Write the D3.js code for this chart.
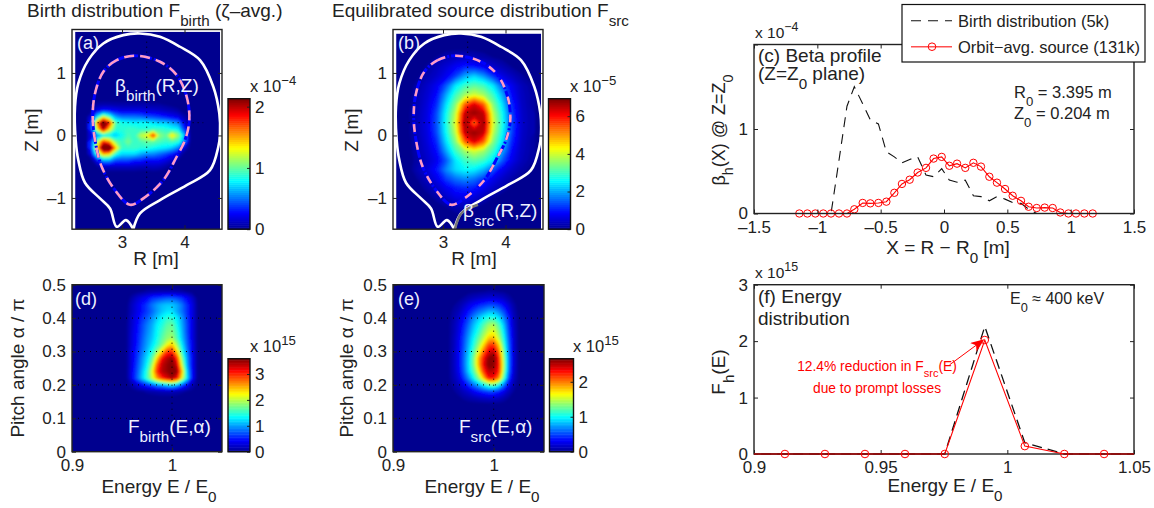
<!DOCTYPE html>
<html>
<head>
<meta charset="utf-8">
<script src="https://cdn.jsdelivr.net/npm/d3@7"></script>
<style>
  html, body { margin: 0; background: #fff; }
  svg { display: block; font-family: "Liberation Sans", Arial, sans-serif; fill: #222; }
  .domain { display: none; }
  .tick line { stroke: #222; stroke-width: 1; }
  .tick text { font-size: 17px; fill: #222; }
</style>
</head>
<body>
<svg id="chart" width="1154" height="508"></svg>
<script>
// values
const birthR = [2.5, 2.6, 2.7, 2.8, 2.9, 3.0, 3.1, 3.2, 3.3, 3.4, 3.5, 3.6, 3.7, 3.8, 3.9, 4.0, 4.1];
const birthZ = [0.6, 0.5, 0.4, 0.3, 0.2, 0.1, 0, -0.1, -0.2, -0.3, -0.4, -0.5, -0.6];
const birthRZ = [
  [0, 0, 0, 0, 0, 0, 0, 0, 0, 0, 0, 0, 0, 0, 0, 0, 0],
  [0, .05, .06, .06, .05, .05, .05, .05, .05, .05, .04, .04, .02, 0, 0, 0, 0],
  [0, .22, .3, .28, .24, .2, .2, .2, .2, .17, .16, .14, .11, .09, .05, 0, 0],
  [.15, .75, 1.25, .95, .6, .5, .5, .5, .48, .42, .4, .36, .3, .25, .2, .07, 0],
  [.3, 1.55, 2.4, 1.85, .95, .85, .82, .78, .8, .8, .75, .7, .7, .62, .55, .2, 0],
  [.3, 1.25, 2.05, 1.35, .9, .88, .92, .92, .88, .88, .92, .92, .88, .82, .78, .35, 0],
  [.15, .55, .75, .78, .68, .82, .95, .9, 1.2, 1.3, 1.8, 1.1, 1.0, 1.4, 1.1, .65, 0],
  [.3, 1.1, 1.8, 1.55, 1.05, .92, 1.05, .9, .95, 1.0, 1.0, .95, .9, .95, .88, .55, 0],
  [.3, 1.35, 2.4, 2.45, 1.45, .92, .92, .92, .88, .88, .82, .78, .75, .68, .52, .14, 0],
  [.15, .95, 1.45, 1.35, .85, .72, .72, .72, .62, .55, .55, .48, .4, .3, .16, 0, 0],
  [0, .25, .6, .6, .42, .4, .4, .32, .32, .26, .26, .26, .2, .12, .03, 0, 0],
  [0, .02, .12, .12, .12, .12, .12, .12, .1, .1, .12, .1, .05, 0, 0, 0, 0],
  [0, 0, 0, 0, 0, 0, 0, 0, 0, 0, 0, 0, 0, 0, 0, 0, 0]
];

const srcR = [2.45, 2.6, 2.75, 2.9, 3.05, 3.2, 3.35, 3.5, 3.65, 3.8, 3.95, 4.1, 4.25, 4.4];
const srcZ = [1.4, 1.25, 1.1, .95, .8, .65, .5, .35, .2, .05, -.1, -.25, -.4, -.55, -.7, -.85, -1.0, -1.15, -1.3];
const srcRZ = [
  [0, 0, 0, 0, 0, 0, 0, 0, 0, 0, 0, 0, 0, 0],
  [0, 0, 0, .12, .28, .38, .42, .32, .2, .1, .03, 0, 0, 0],
  [0, 0, .14, .35, .55, .8, 1.05, 1.0, .8, .48, .28, .1, 0, 0],
  [0, .07, .28, .46, .75, 1.3, 2.0, 2.3, 1.9, 1.2, .65, .38, .15, 0],
  [0, .2, .45, .75, 1.45, 2.45, 3.0, 3.2, 3.0, 2.45, 1.45, .72, .35, .15],
  [0, .28, .52, .92, 2.0, 3.0, 3.7, 4.05, 3.7, 3.0, 2.0, .88, .4, .2],
  [.04, .28, .6, 1.15, 2.4, 3.5, 5.4, 6.3, 5.4, 3.5, 2.4, 1.1, .45, .2],
  [.07, .34, .65, 1.38, 2.65, 3.9, 6.5, 6.8, 6.5, 3.9, 2.65, 1.3, .48, .24],
  [.07, .35, .68, 1.42, 2.75, 4.1, 6.8, 5.3, 6.8, 4.1, 2.75, 1.35, .5, .25],
  [.07, .34, .65, 1.38, 2.65, 3.9, 6.5, 6.8, 6.5, 3.9, 2.65, 1.3, .48, .24],
  [.04, .28, .6, 1.15, 2.4, 3.5, 5.4, 6.3, 5.4, 3.5, 2.4, 1.1, .45, .2],
  [0, .28, .52, .92, 2.0, 3.0, 3.7, 4.05, 3.7, 3.0, 2.0, .88, .4, .2],
  [0, .2, .45, .75, 1.45, 2.45, 3.0, 3.2, 3.0, 2.45, 1.45, .72, .35, .15],
  [0, .3, .58, .98, 1.8, 2.35, 2.6, 2.5, 2.1, 1.4, .75, .42, .2, .05],
  [0, .12, .4, .7, 1.25, 1.6, 1.8, 1.6, 1.2, .7, .42, .2, .05, 0],
  [0, 0, .2, .42, .72, 1.0, 1.1, 1.0, .7, .42, .2, .05, 0, 0],
  [0, 0, 0, .18, .42, .65, .7, .55, .3, .1, 0, 0, 0, 0],
  [0, 0, 0, 0, .1, .25, .3, .1, 0, 0, 0, 0, 0, 0],
  [0, 0, 0, 0, 0, 0, 0, 0, 0, 0, 0, 0, 0, 0]
];

const energyCols = [.95, .955, .96, .965, .97, .975, .98, .985, .99, .995, 1.0, 1.005, 1.01, 1.015, 1.02, 1.025, 1.03];
const birthPitch = [.5, .48, .46, .44, .42, .40, .38, .36, .34, .32, .30, .28, .26, .24, .22, .20, .18, .16];
const birthEA = [
  [0, 0, 0, 0, 0, 0, 0, 0, 0, 0, 0, 0, 0, 0, 0, 0, 0],
  [0, 0, 0, .02, .05, .08, .1, .12, .12, .12, .12, .1, .08, .05, .02, 0, 0],
  [0, 0, .12, .25, .35, .45, .6, .65, .7, .75, .75, .7, .6, .45, .25, .05, 0],
  [0, .03, .2, .35, .5, .65, .85, 1.0, 1.1, 1.15, 1.15, 1.05, .85, .6, .35, .06, 0],
  [0, .04, .2, .35, .5, .65, .8, 1.0, 1.15, 1.25, 1.25, 1.05, .85, .6, .35, .06, 0],
  [0, .05, .25, .4, .6, .75, .95, 1.15, 1.35, 1.5, 1.5, 1.3, 1.0, .65, .35, .06, 0],
  [0, .06, .25, .45, .68, .88, 1.05, 1.3, 1.45, 1.65, 1.7, 1.4, 1.05, .7, .35, .06, 0],
  [0, .06, .28, .48, .7, .92, 1.1, 1.35, 1.55, 1.75, 1.8, 1.5, 1.1, .7, .35, .06, 0],
  [0, .06, .3, .5, .75, .98, 1.15, 1.4, 1.65, 1.85, 1.95, 1.6, 1.15, .75, .35, .06, 0],
  [0, .06, .3, .52, .8, 1.02, 1.25, 1.5, 1.8, 2.2, 2.45, 1.9, 1.3, .8, .4, .06, 0],
  [0, .06, .35, .58, .85, 1.12, 1.42, 1.85, 2.4, 2.95, 3.0, 2.35, 1.5, .9, .4, .06, 0],
  [0, .06, .35, .62, .95, 1.25, 1.65, 2.35, 3.1, 3.4, 3.55, 2.95, 1.8, 1.0, .45, .06, 0],
  [0, .06, .35, .68, 1.0, 1.35, 1.9, 2.8, 3.35, 3.5, 3.65, 3.25, 2.05, 1.05, .45, .06, 0],
  [0, .06, .4, .72, 1.1, 1.5, 2.15, 3.0, 3.4, 3.5, 3.75, 3.5, 2.45, 1.2, .5, .06, 0],
  [0, .06, .4, .78, 1.15, 1.55, 2.05, 2.6, 3.0, 3.25, 3.45, 3.1, 2.2, 1.3, .5, .06, 0],
  [0, .03, .12, .28, .45, .6, .75, .95, 1.05, 1.2, 1.3, 1.1, .75, .45, .17, .03, 0],
  [0, 0, .01, .03, .05, .08, .1, .12, .15, .15, .15, .12, .08, .05, .02, 0, 0],
  [0, 0, 0, 0, 0, 0, 0, 0, 0, 0, 0, 0, 0, 0, 0, 0, 0]
];

const srcPitch = [.5, .48, .46, .44, .42, .40, .38, .36, .34, .32, .30, .28, .26, .24, .22, .20, .18, .16, .14];
const srcEA = [
  [0, 0, 0, 0, 0, 0, 0, 0, 0, 0, 0, 0, 0, 0, 0, 0, 0],
  [0, 0, 0, 0, 0, .01, .02, .03, .04, .05, .05, .04, .03, .01, 0, 0, 0],
  [0, 0, 0, .02, .05, .1, .14, .17, .2, .22, .22, .2, .15, .08, .02, 0, 0],
  [0, 0, .03, .07, .15, .25, .33, .4, .45, .5, .5, .45, .35, .2, .07, 0, 0],
  [0, .01, .06, .12, .25, .38, .5, .62, .7, .8, .8, .7, .52, .3, .1, .01, 0],
  [0, .01, .08, .18, .33, .5, .7, .85, 1.0, 1.1, 1.1, .95, .7, .4, .13, .02, 0],
  [0, .02, .1, .22, .4, .6, .82, 1.0, 1.2, 1.4, 1.45, 1.2, .85, .45, .15, .02, 0],
  [0, .02, .1, .24, .45, .68, .9, 1.1, 1.35, 1.55, 1.6, 1.35, .95, .5, .17, .02, 0],
  [0, .02, .12, .27, .5, .75, 1.0, 1.25, 1.5, 1.8, 1.85, 1.5, 1.05, .55, .18, .02, 0],
  [0, .02, .12, .28, .52, .8, 1.07, 1.4, 1.75, 2.15, 2.2, 1.8, 1.15, .6, .18, .02, 0],
  [0, .02, .13, .3, .55, .85, 1.2, 1.6, 2.05, 2.4, 2.5, 2.05, 1.3, .62, .2, .02, 0],
  [0, .02, .13, .3, .58, .9, 1.3, 1.85, 2.3, 2.65, 2.7, 2.25, 1.4, .65, .2, .02, 0],
  [0, .02, .13, .3, .58, .92, 1.3, 1.85, 2.35, 2.7, 2.65, 2.3, 1.45, .65, .2, .02, 0],
  [0, .02, .12, .28, .55, .88, 1.2, 1.65, 2.2, 2.5, 2.5, 2.25, 1.4, .62, .18, .02, 0],
  [0, .02, .1, .22, .45, .7, 1.0, 1.35, 1.8, 2.3, 2.3, 1.95, 1.2, .5, .14, .02, 0],
  [0, .01, .06, .14, .28, .45, .62, .8, 1.0, 1.2, 1.25, 1.05, .65, .3, .08, .01, 0],
  [0, 0, .03, .07, .14, .2, .3, .38, .45, .5, .5, .42, .28, .13, .04, 0, 0],
  [0, 0, .01, .02, .05, .08, .1, .13, .15, .17, .17, .14, .09, .04, .01, 0, 0],
  [0, 0, 0, 0, 0, 0, 0, 0, 0, 0, 0, 0, 0, 0, 0, 0, 0]
];

// [R, Z] outlines
const wallRZ = [[3.181, -1.504], [3.288, -1.248], [3.608, -1.035], [4.035, -0.795], [4.408, -0.555], [4.541, -0.181], [4.568, 0.032], [4.557, 0.352], [4.461, 0.779], [4.248, 1.205], [3.928, 1.419], [3.608, 1.579], [3.288, 1.632], [3.021, 1.605], [2.701, 1.472], [2.461, 1.205], [2.301, 0.832], [2.248, 0.459], [2.259, -0.075], [2.301, -0.395], [2.408, -0.757], [2.648, -1.008], [2.808, -1.168], [2.915, -1.461], [3.064, -1.355], [3.181, -1.504]];
const lcfsRZ = [[3.208, 1.275], [2.915, 1.205], [2.701, 1.019], [2.568, 0.672], [2.531, 0.299], [2.568, -0.075], [2.675, -0.501], [2.888, -0.875], [3.128, -1.109], [3.341, -1.008], [3.661, -0.715], [3.875, -0.341], [4.008, -0.075], [4.077, 0.245], [4.035, 0.619], [3.875, 0.965], [3.608, 1.179]];
const grayArcRZ = [[3.19, -1.5], [3.30, -1.24], [3.56, -1.11]];

// beta profile, panel (c)
const profileX = [-1.142, -1.079, -1.016, -0.953, -0.892, -0.829, -0.766, -0.708, -0.642, -0.582, -0.518, -0.455, -0.392, -0.332, -0.271, -0.208, -0.142, -0.082, -0.018, 0.042, 0.103, 0.168, 0.232, 0.292, 0.358, 0.418, 0.482, 0.542, 0.608, 0.668, 0.732, 0.795, 0.858, 0.918, 0.982, 1.042, 1.108, 1.174];
const profileBirth = [0, 0, 0, 0, 0, .63, 1.27, 1.5, 1.3, 1.11, 1.06, .73, .67, .6, .64, .67, .455, .435, .53, .395, .37, .395, .21, .2, .15, .2, .17, .13, .12, .05, 0, 0, 0, 0, 0, 0, 0, 0];
const profileSrc = [0, 0, 0, 0, 0, 0, 0, .05, .125, .12, .125, .14, .245, .35, .4, .485, .54, .65, .67, .565, .59, .54, .6, .555, .435, .365, .29, .21, .15, .08, .065, .07, .065, .012, 0, 0, 0, 0];

// energy distribution, panel (f)
const energyE = [.8965, .9122, .928, .9438, .9596, .9753, .9911, 1.0069, 1.0225, 1.0382, 1.054];
const energyBirth = [0, 0, 0, 0, 0, 0, 2.26, .2, 0, 0, 0];
const energySrc = [0, 0, 0, 0, 0, 0, 2.02, .14, 0, 0, 0];

const jet = d3.scaleLinear()
  .domain([0, .125, .375, .625, .875, 1])
  .range(["#00008f", "#0000ff", "#00ffff", "#ffff00", "#ff0000", "#800000"]);
const LEVELS = 64;
const svg = d3.select("#chart");

var defs = svg.append("defs");
defs.append("filter").attr("id", "soft")
  .attr("x", "-5%").attr("y", "-5%").attr("width", "110%").attr("height", "110%")
  .append("feGaussianBlur").attr("stdDeviation", 1);

// parts: [text, "sub"|"sup"|undefined]
function richText(parent, x, y, parts, opts = {}) {
  let size = opts.size || 15;
  let text = parent.append("text")
    .attr("x", x).attr("y", y)
    .attr("font-size", size)
    .attr("fill", opts.fill || "#222")
    .attr("text-anchor", opts.anchor || "start");
  if (opts.rotate) text.attr("transform", `rotate(-90 ${x} ${y})`);
  let shift = 0;
  parts.forEach(([str, mode]) => {
    let want = mode === "sub" ? size * 0.47 : mode === "sup" ? -size * 0.42 : 0;
    let small = mode ? size * 0.8 : size;
    text.append("tspan")
      .attr("dy", want - shift)
      .attr("font-size", small)
      .text(str);
    shift = want;
  });
  return text;
}

function drawAxes(g, x, y, xTicks, yTicks, xFormat, yFormat) {
  let w = x.range()[1], h = y.range()[0];
  g.append("g").attr("transform", `translate(0,${h})`)
    .call(d3.axisBottom(x).tickValues(xTicks).tickSize(-4).tickPadding(7).tickFormat(xFormat));
  g.append("g")
    .call(d3.axisLeft(y).tickValues(yTicks).tickSize(-4).tickPadding(6).tickFormat(yFormat));
  g.append("g")
    .call(d3.axisTop(x).tickValues(xTicks).tickSize(-4).tickFormat(""));
  g.append("g").attr("transform", `translate(${w},0)`)
    .call(d3.axisRight(y).tickValues(yTicks).tickSize(-4).tickFormat(""));
  g.append("rect")
    .attr("width", w).attr("height", h)
    .attr("fill", "none").attr("stroke", "#222").attr("stroke-width", 1.4);
}

function panel(left, top, w, h, xDomain, yDomain) {
  let g = svg.append("g").attr("transform", `translate(${left},${top})`);
  let x = d3.scaleLinear().domain(xDomain).range([0, w]);
  let y = d3.scaleLinear().domain(yDomain).range([h, 0]);
  return { g, x, y };
}

function drawHeat(p, id, cols, rows, grid, vmax, extent) {
  let { g, x, y } = p;
  let ix = d3.scaleLinear().domain([0, cols.length - 1]).range([cols[0], cols[cols.length - 1]]);
  let iy = d3.scaleLinear().domain([0, rows.length - 1]).range([rows[0], rows[rows.length - 1]]);
  let px = x(extent[0]), py = y(extent[3]);
  let pw = x(extent[1]) - px, ph = y(extent[2]) - py;

  g.append("clipPath").attr("id", id).append("rect")
    .attr("x", px).attr("y", py).attr("width", pw).attr("height", ph);
  let holder = g.append("g").attr("clip-path", `url(#${id})`);
  holder.append("rect")
    .attr("x", px).attr("y", py).attr("width", pw).attr("height", ph)
    .attr("fill", jet(0));

  let levels = d3.range(1, LEVELS).map((i) => (vmax * i) / LEVELS);
  let contours = d3.contours()
    .size([cols.length, rows.length])
    .thresholds(levels)(grid.flat());
  let path = d3.geoPath(d3.geoTransform({
    point(a, b) {
      this.stream.point(x(ix(a - 0.5)), y(iy(b - 0.5)));
    },
  }));
  holder.append("g").attr("filter", "url(#soft)")
    .selectAll("path").data(contours).join("path")
    .attr("d", path)
    .attr("fill", (d) => jet((d.value + vmax / LEVELS / 2) / vmax));
}

function drawColorbar(left, top, w, h, vmax, ticks, expo, expoX, expoY) {
  let g = svg.append("g").attr("transform", `translate(${left},${top})`);
  let y = d3.scaleLinear().domain([0, vmax]).range([h, 0]);
  let step = vmax / LEVELS;
  g.selectAll("rect").data(d3.range(LEVELS)).join("rect")
    .attr("width", w)
    .attr("y", (i) => y((i + 1) * step))
    .attr("height", (i) => y(i * step) - y((i + 1) * step) + 0.5)
    .attr("fill", (i) => jet((i + 0.5) / LEVELS));
  g.append("g").attr("transform", `translate(${w},0)`)
    .call(d3.axisRight(y).tickValues(ticks).tickSize(-3).tickPadding(5).tickFormat(d3.format("d")));
  g.append("rect").attr("width", w).attr("height", h)
    .attr("fill", "none").attr("stroke", "#111").attr("stroke-width", 1.4);
  richText(svg, expoX, expoY, [["x 10"], [expo, "sup"]], { size: 16.5 });
}

function drawFlux(p, pink) {
  let { g, x, y } = p;
  let line = d3.line().x((d) => x(d[0])).y((d) => y(d[1]));
  // dotted cross through the axis
  g.append("line")
    .attr("x1", x(2.45)).attr("x2", x(4.3)).attr("y1", y(0.204)).attr("y2", y(0.204))
    .attr("stroke", "#000").attr("stroke-dasharray", "1 4");
  g.append("line")
    .attr("x1", x(3.395)).attr("x2", x(3.395)).attr("y1", y(1.5)).attr("y2", y(-1.0))
    .attr("stroke", "#000").attr("stroke-dasharray", "1 4");
  g.append("path").attr("d", line.curve(d3.curveCatmullRom)(wallRZ))
    .attr("fill", "none").attr("stroke", "#fff").attr("stroke-width", 2.6);
  let closed = line.curve(d3.curveCatmullRomClosed)(lcfsRZ);
  g.append("path").attr("d", closed)
    .attr("fill", "none").attr("stroke", "#0000ff").attr("stroke-width", 3)
    .attr("stroke-dasharray", "8 2 2 2");
  g.append("path").attr("d", closed)
    .attr("fill", "none").attr("stroke", "#ff9cc4").attr("stroke-width", 2.6)
    .attr("stroke-dasharray", pink);
}

function drawGrid(p, xVals, yVals) {
  let { g, x, y } = p;
  g.selectAll(".gx").data(xVals).join("line")
    .attr("x1", (d) => x(d)).attr("x2", (d) => x(d))
    .attr("y1", y.range()[0]).attr("y2", y.range()[1])
    .attr("stroke", "#000").attr("stroke-dasharray", "1 5");
  g.selectAll(".gy").data(yVals).join("line")
    .attr("y1", (d) => y(d)).attr("y2", (d) => y(d))
    .attr("x1", x.range()[0]).attr("x2", x.range()[1])
    .attr("stroke", "#000").attr("stroke-dasharray", "1 5");
}

const fmtMinus = (d) => (d < 0 ? "\u2013" + Math.abs(d) : String(d));
const fmtPlain = (d) => String(d);
const WHITE = "#eef0ff";
const redLine = "#f00";

// (a) and (b)
const rzX = [3, 4], rzY = [-1, 0, 1];
var pa = panel(72, 29.5, 150, 199.7, [2.2, 4.6], [-1.5, 1.695]);
drawHeat(pa, "clipA", birthR, birthZ, birthRZ, 2.13, [2.25, 4.57, -1.5, 1.66]);
drawFlux(pa, "10 6");
drawAxes(pa.g, pa.x, pa.y, rzX, rzY, fmtMinus, fmtMinus);

var pb = panel(393, 29.5, 150, 199.7, [2.2, 4.6], [-1.5, 1.695]);
drawHeat(pb, "clipB", srcR, srcZ, srcRZ, 6.93, [2.25, 4.57, -1.5, 1.63]);
drawFlux(pb, "8 10");
pb.g.append("path")
  .attr("d", d3.line().curve(d3.curveCatmullRom).x((d) => pb.x(d[0])).y((d) => pb.y(d[1]))(grayArcRZ))
  .attr("fill", "none").attr("stroke", "#777").attr("stroke-width", 2.6);
drawAxes(pb.g, pb.x, pb.y, rzX, rzY, fmtMinus, fmtMinus);

// (d) and (e)
const eaX = [.9, 1], eaY = [0, .1, .2, .3, .4, .5];
var pd = panel(72, 284.7, 150, 167, [.9, 1.05], [0, .5]);
drawHeat(pd, "clipD", energyCols, birthPitch, birthEA, 3.59, [.9, 1.05, 0, .5]);
drawGrid(pd, [1], [.1, .2, .3, .4]);
drawAxes(pd.g, pd.x, pd.y, eaX, eaY, fmtPlain, fmtPlain);

var pe = panel(393, 284.7, 151, 167, [.9, 1.05], [0, .5]);
drawHeat(pe, "clipE", energyCols, srcPitch, srcEA, 2.66, [.9, 1.05, 0, .5]);
drawGrid(pe, [1], [.1, .2, .3, .4]);
drawAxes(pe.g, pe.x, pe.y, eaX, eaY, fmtPlain, fmtPlain);

drawColorbar(228, 98.7, 22, 130.5, 2.13, [0, 1, 2], "\u22124", 250, 92);
drawColorbar(548.5, 98.7, 22, 130.5, 6.93, [0, 2, 4, 6], "\u22125", 570, 92);
drawColorbar(228, 358.7, 22, 93, 3.59, [0, 1, 2, 3], "15", 250, 352);
drawColorbar(549.5, 358.7, 24, 93, 2.66, [0, 1, 2], "15", 573, 352);

// (c) beta profile
var pc = panel(754, 44.5, 380, 169, [-1.5, 1.5], [0, 2]);
var cLine = d3.line().x((d, i) => pc.x(profileX[i])).y((d) => pc.y(d));
pc.g.append("path").attr("d", cLine(profileBirth))
  .attr("fill", "none").attr("stroke", "#111").attr("stroke-width", 1.1).attr("stroke-dasharray", "10 7");
pc.g.append("path").attr("d", cLine(profileSrc))
  .attr("fill", "none").attr("stroke", redLine).attr("stroke-width", 1.1);
pc.g.selectAll(".m").data(profileSrc).join("circle")
  .attr("cx", (d, i) => pc.x(profileX[i])).attr("cy", (d) => pc.y(d)).attr("r", 3.7)
  .attr("fill", "none").attr("stroke", redLine).attr("stroke-width", 1);
drawAxes(pc.g, pc.x, pc.y, [-1.5, -1, -.5, 0, .5, 1, 1.5], [0, 1, 2], fmtMinus, (d) => (d === 2 ? "" : d));

// (f) energy distribution
var pf = panel(754, 284.7, 380, 169.3, [.9, 1.05], [0, 3]);
drawAxes(pf.g, pf.x, pf.y, [.9, .95, 1, 1.05], [0, 1, 2, 3], fmtPlain, fmtPlain);
pf.g.append("clipPath").attr("id", "clipF").append("rect")
  .attr("y", -5).attr("width", 380).attr("height", 180);
var fCurves = pf.g.append("g").attr("clip-path", "url(#clipF)");
var fLine = d3.line().x((d, i) => pf.x(energyE[i])).y((d) => pf.y(d));
fCurves.append("path").attr("d", fLine(energyBirth))
  .attr("fill", "none").attr("stroke", "#111").attr("stroke-width", 1.3).attr("stroke-dasharray", "10 6");
fCurves.append("path").attr("d", fLine(energySrc))
  .attr("fill", "none").attr("stroke", redLine).attr("stroke-width", 1.1);
// red over black reads dark along the zero line
[[energyE[0], energyE[5]], [energyE[8], energyE[10]]].forEach(([a, b]) => {
  fCurves.append("line")
    .attr("x1", pf.x(a)).attr("x2", pf.x(b)).attr("y1", pf.y(0)).attr("y2", pf.y(0))
    .attr("stroke", "#8a1010").attr("stroke-width", 1.5);
});
fCurves.selectAll(".m").data(energySrc.slice(1, 10)).join("circle")
  .attr("cx", (d, i) => pf.x(energyE[i + 1])).attr("cy", (d) => pf.y(d)).attr("r", 3.8)
  .attr("fill", "none").attr("stroke", redLine).attr("stroke-width", 1);

// arrow
defs.append("marker").attr("id", "arrowHead")
  .attr("viewBox", "0 0 10 8").attr("refX", 9).attr("refY", 4)
  .attr("markerWidth", 14).attr("markerHeight", 11).attr("markerUnits", "userSpaceOnUse")
  .attr("orient", "auto")
  .append("path").attr("d", "M0,0 L10,4 L0,8 L2.5,4 Z").attr("fill", redLine);
pf.g.append("line")
  .attr("x1", pf.x(.9772)).attr("y1", pf.y(1.58))
  .attr("x2", pf.x(.9905)).attr("y2", pf.y(2.02))
  .attr("stroke", redLine).attr("stroke-width", 1)
  .attr("marker-end", "url(#arrowHead)");

// legend
var lg = svg.append("g");
lg.append("rect").attr("x", 902).attr("y", 4.5).attr("width", 243).attr("height", 57.5)
  .attr("fill", "#fff").attr("stroke", "#111").attr("stroke-width", 1.2);
lg.append("line").attr("x1", 911).attr("x2", 952).attr("y1", 20.7).attr("y2", 20.7)
  .attr("stroke", "#111").attr("stroke-width", 1.1).attr("stroke-dasharray", "10 7");
lg.append("line").attr("x1", 911).attr("x2", 952).attr("y1", 46.7).attr("y2", 46.7)
  .attr("stroke", "#ff5050").attr("stroke-width", 1.6);
lg.append("circle").attr("cx", 932).attr("cy", 46.7).attr("r", 3.8)
  .attr("fill", "none").attr("stroke", redLine);
richText(lg, 958, 26.7, [["Birth distribution (5k)"]], { size: 16.5 });
richText(lg, 958, 52.7, [["Orbit\u2212avg. source (131k)"]], { size: 16.5 });

// text
richText(svg, 27, 17, [["Birth distribution F"], ["birth", "sub"], [" (\u03b6\u2013avg.)"]], { size: 19 });
richText(svg, 332, 17, [["Equilibrated source distribution F"], ["src", "sub"]], { size: 19 });

richText(svg, 156, 265, [["R [m]"]], { size: 19, anchor: "middle" });
richText(svg, 474, 265, [["R [m]"]], { size: 19, anchor: "middle" });
richText(svg, 38, 130, [["Z [m]"]], { size: 19, anchor: "middle", rotate: true });
richText(svg, 358, 130, [["Z [m]"]], { size: 19, anchor: "middle", rotate: true });
richText(svg, 24, 368, [["Pitch angle \u03b1 / \u03c0"]], { size: 19, anchor: "middle", rotate: true });
richText(svg, 353, 368, [["Pitch angle \u03b1 / \u03c0"]], { size: 19, anchor: "middle", rotate: true });
richText(svg, 159, 493, [["Energy E / E"], ["0", "sub"]], { size: 19, anchor: "middle" });
richText(svg, 482, 493, [["Energy E / E"], ["0", "sub"]], { size: 19, anchor: "middle" });

richText(svg, 77, 49, [["(a)"]], { size: 18, fill: WHITE });
richText(svg, 398, 49, [["(b)"]], { size: 18, fill: WHITE });
richText(svg, 75, 305, [["(d)"]], { size: 18, fill: WHITE });
richText(svg, 398, 305, [["(e)"]], { size: 18, fill: WHITE });
richText(svg, 115, 92, [["\u03b2"], ["birth", "sub"], ["(R,Z)"]], { size: 19, fill: WHITE });
richText(svg, 463, 217, [["\u03b2"], ["src", "sub"], ["(R,Z)"]], { size: 19, fill: WHITE });
richText(svg, 128, 433, [["F"], ["birth", "sub"], ["(E,\u03b1)"]], { size: 19, fill: WHITE });
richText(svg, 459, 433, [["F"], ["src", "sub"], ["(E,\u03b1)"]], { size: 19, fill: WHITE });

richText(svg, 755, 38, [["x 10"], ["\u22124", "sup"]], { size: 15.5 });
richText(svg, 758, 62, [["(c) Beta profile"]], { size: 19 });
richText(svg, 758, 80, [["(Z=Z"], ["0", "sub"], [" plane)"]], { size: 19 });
richText(svg, 1014, 98, [["R"], ["0", "sub"], [" = 3.395 m"]], { size: 16.5 });
richText(svg, 1014, 119, [["Z"], ["0", "sub"], [" = 0.204 m"]], { size: 16.5 });
richText(svg, 725, 130, [["\u03b2"], ["h", "sub"], ["(X) @ Z=Z"], ["0", "sub"]], { size: 18, anchor: "middle", rotate: true });
richText(svg, 948, 254, [["X = R \u2212 R"], ["0", "sub"], [" [m]"]], { size: 19, anchor: "middle" });

richText(svg, 755, 278, [["x 10"], ["15", "sup"]], { size: 15.5 });
richText(svg, 758, 303, [["(f) Energy"]], { size: 19 });
richText(svg, 758, 325, [["distribution"]], { size: 19 });
richText(svg, 1010, 304, [["E"], ["0", "sub"], [" \u2248 400 keV"]], { size: 16 });
richText(svg, 725, 372, [["F"], ["h", "sub"], ["(E)"]], { size: 19, anchor: "middle", rotate: true });
richText(svg, 945, 492, [["Energy E / E"], ["0", "sub"]], { size: 19, anchor: "middle" });
richText(svg, 877, 371, [["12.4% reduction in F"], ["src", "sub"], ["(E)"]], { size: 13.8, fill: "#f00", anchor: "middle" });
richText(svg, 877, 393, [["due to prompt losses"]], { size: 13.8, fill: "#f00", anchor: "middle" });
</script>
</body>
</html>
